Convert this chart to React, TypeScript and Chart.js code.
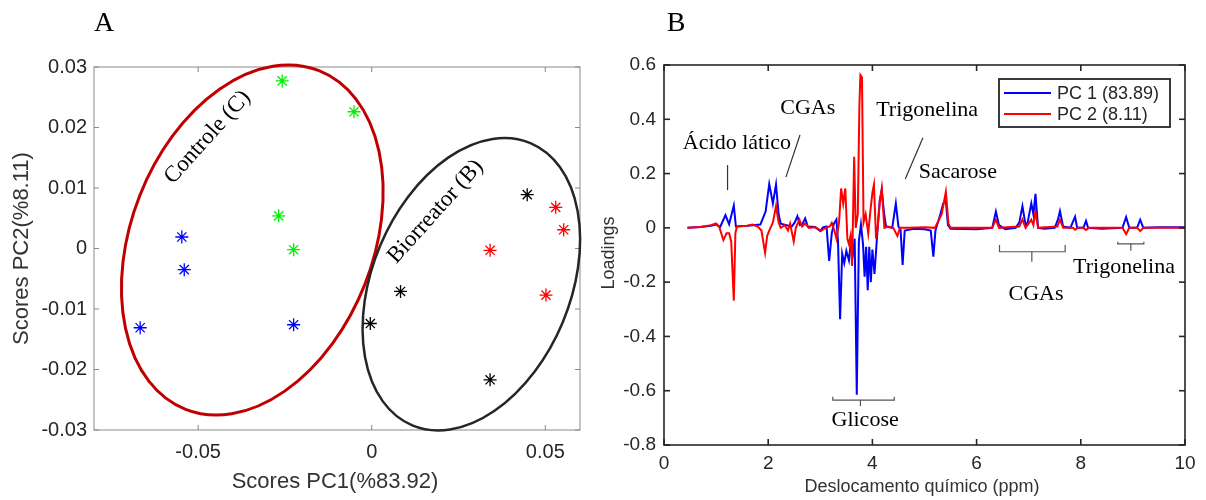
import React, { useEffect, useRef } from 'react';
import { Chart, registerables } from 'chart.js';

Chart.register(...registerables);

// ---------------- Panel A: PCA scores ----------------
const greenX = [-0.0258, -0.0051, -0.0268, -0.0225];
const greenY = [0.0277, 0.0226, 0.0054, -0.0002];
const blueX = [-0.0547, -0.054, -0.0667, -0.0225];
const blueY = [0.0019, -0.0035, -0.0131, -0.0126];
const blackX = [0.0448, 0.0083, -0.0004, 0.0341];
const blackY = [0.0089, -0.0071, -0.0124, -0.0217];
const redX = [0.053, 0.0553, 0.0341, 0.0502];
const redY = [0.0068, 0.0031, -0.0003, -0.0077];

const scoreXTicks = [-0.05, 0, 0.05];
const scoreYTicks = [-0.03, -0.02, -0.01, 0, 0.01, 0.02, 0.03];

const groupLabels = ['Controle (C)', 'Biorreator (B)'];
const groupLabelX = [-0.0473, 0.0184];
const groupLabelY = [0.0184, 0.0061];
const ellipseCX = [-0.0344, 0.0287];
const ellipseCY = [0.0014, -0.0059];

// ---------------- Panel B: loadings ----------------
const pc1Ppm = [
  0.45, 0.7, 0.9, 1.0, 1.08, 1.18, 1.25, 1.34, 1.38, 1.6,
  1.7, 1.85, 1.95, 2.02, 2.09, 2.15, 2.2, 2.24, 2.35, 2.45,
  2.51, 2.56, 2.61, 2.66, 2.71, 2.76, 2.9, 3.0, 3.05, 3.12,
  3.17, 3.22, 3.26, 3.31, 3.34, 3.38, 3.42, 3.46, 3.5, 3.55,
  3.59, 3.63, 3.66, 3.7, 3.74, 3.78, 3.82, 3.85, 3.88, 3.91,
  3.94, 3.97, 4.0, 4.04, 4.09, 4.14, 4.18, 4.22, 4.26, 4.38,
  4.45, 4.5, 4.54, 4.58, 4.62, 4.8, 5.0, 5.12, 5.17, 5.21,
  5.3, 5.36, 5.41, 5.45, 5.5, 6.0, 6.3, 6.37, 6.43, 6.55,
  6.75, 6.82, 6.88, 6.94, 6.98, 7.05, 7.09, 7.13, 7.18, 7.3,
  7.5, 7.56, 7.6, 7.66, 7.8, 7.89, 7.93, 8.05, 8.1, 8.14,
  8.4, 8.8, 8.87, 8.93, 9.08, 9.14, 9.2, 9.5, 10.0,
];
const pc1Loading = [
  0, 0.003, 0.008, 0.012, 0.004, 0.047, 0.013, 0.082, 0.005, 0.008,
  0.01, 0.012, 0.06, 0.161, 0.09, 0.16, 0.05, 0.015, 0.01, 0.005,
  0.02, 0.043, 0.01, 0.015, 0.035, 0.005, 0.003, -0.012, 0.002, 0.005,
  -0.122, -0.02, 0.015, 0.031, -0.05, -0.337, -0.095, -0.13, -0.085, -0.12,
  -0.045, -0.09, -0.04, -0.615, -0.05, 0.012, -0.06, -0.18, -0.07, -0.23,
  -0.07, -0.2, -0.08, -0.17, -0.03, 0.1, 0.14, 0.06, 0.005, 0,
  0.09, 0.005, -0.005, -0.137, -0.01, -0.003, -0.005, -0.01, -0.106, -0.01,
  0.047, 0.09, 0.1, 0.01, -0.003, -0.005, 0, 0.06, 0.01, -0.005,
  0, 0.02, 0.08, 0.01, 0.02, 0.09, 0.05, 0.125, 0, -0.003,
  0, 0.03, 0.062, 0.005, 0, 0.041, 0, 0, 0.026, 0,
  -0.003, 0, 0.04, 0, 0, 0.03, 0, 0.002, 0.002,
];
const pc2Ppm = [
  0.45, 0.7, 0.9, 1.0, 1.06, 1.14, 1.2, 1.25, 1.29, 1.34,
  1.37, 1.4, 1.6, 1.7, 1.8, 1.87, 1.94, 1.98, 2.02, 2.09,
  2.15, 2.2, 2.24, 2.32, 2.38, 2.42, 2.49, 2.53, 2.6, 2.65,
  2.71, 2.78, 2.9, 3.02, 3.1, 3.18, 3.22, 3.27, 3.31, 3.36,
  3.4, 3.44, 3.48, 3.52, 3.55, 3.58, 3.61, 3.65, 3.68, 3.72,
  3.75, 3.77, 3.8, 3.83, 3.87, 3.92, 3.96, 4.0, 4.03, 4.07,
  4.1, 4.14, 4.18, 4.23, 4.3, 4.4, 4.48, 4.53, 4.7, 5.0,
  5.2, 5.33, 5.41, 5.46, 5.5, 6.3, 6.37, 6.43, 6.82, 6.88,
  6.94, 7.05, 7.09, 7.13, 7.18, 7.55, 7.6, 7.66, 7.85, 7.89,
  7.94, 8.05, 8.1, 8.15, 8.8, 8.87, 8.93, 9.08, 9.14, 9.2,
  10.0,
];
const pc2Loading = [
  0, 0.003, 0.01, 0.016, 0.003, -0.045, -0.02, -0.02, -0.05, -0.268,
  -0.02, 0.005, 0.008, 0.012, 0.005, -0.01, -0.092, -0.03, -0.01, 0.02,
  0.08, 0.02, 0, 0.01, -0.01, 0.016, -0.05, 0, 0.03, 0.005,
  0.016, 0, 0.002, -0.01, 0, 0.005, 0.018, -0.01, -0.04, 0.02,
  0.145, 0.09, 0.145, -0.04, -0.06, -0.03, -0.14, 0.262, 0, 0.05,
  0.45, 0.563, 0.555, 0.02, 0.05, -0.02, 0.06, 0.13, 0.16, -0.04,
  0, 0.09, 0.145, 0, 0.005, 0, -0.03, 0, 0, 0.002,
  0, 0.05, 0.133, 0.015, 0, 0, 0.03, 0, 0.005, 0.031,
  0, 0.03, 0.01, 0.06, 0, 0.005, 0.03, 0, 0, -0.007,
  0, 0, -0.008, 0, 0, -0.023, 0, 0, -0.012, 0,
  0,
];
const seriesNames = ['PC 1 (83.89)', 'PC 2 (8.11)'];
const ppmTicks = [0, 2, 4, 6, 8, 10];
const loadingTicks = [-0.8, -0.6, -0.4, -0.2, 0, 0.2, 0.4, 0.6];

const noteTexts = ['Ácido lático', 'CGAs', 'Trigonelina', 'Sacarose', 'Glicose', 'CGAs', 'Trigonelina'];
const notePpm = [1.4, 2.76, 5.05, 5.64, 3.86, 7.14, 8.83];
const noteLoading = [0.312, 0.441, 0.434, 0.206, -0.708, -0.244, -0.145];
// pointer segments: ppm1, loading1, ppm2, loading2
const pointerSegs = [
  [1.22, 0.231, 1.22, 0.139],
  [2.61, 0.342, 2.34, 0.187],
  [4.97, 0.332, 4.63, 0.18],
];
// brackets: ppmStart, ppmEnd, ppmCenter, endTop, line, centerBottom
const brackets = [
  [3.24, 4.42, 3.77, -0.622, -0.635, -0.657],
  [6.44, 7.7, 7.06, -0.063, -0.088, -0.125],
  [8.71, 9.21, 8.96, -0.051, -0.059, -0.084],
];

const SANS = '"Liberation Sans", Arial, sans-serif';
const SERIF = '"Liberation Serif", "Times New Roman", serif';

const fmt = (v: any) => String(Math.round(Number(v) * 1e6) / 1e6);
const toPts = (xs: number[], ys: number[]) => xs.map((x, i) => ({ x, y: ys[i] }));

function seg(ctx: CanvasRenderingContext2D, x1: number, y1: number, x2: number, y2: number) {
  ctx.beginPath();
  ctx.moveTo(x1, y1);
  ctx.lineTo(x2, y2);
  ctx.stroke();
}

function drawBoxTicks(chart: any, xt: number[], yt: number[], color: string, lw: number, tl: number) {
  const { ctx, chartArea: ca, scales } = chart;
  ctx.save();
  ctx.strokeStyle = color;
  ctx.lineWidth = lw;
  ctx.strokeRect(ca.left, ca.top, ca.right - ca.left, ca.bottom - ca.top);
  xt.forEach((v) => {
    const p = scales.x.getPixelForValue(v);
    seg(ctx, p, ca.bottom, p, ca.bottom - tl);
    seg(ctx, p, ca.top, p, ca.top + tl);
  });
  yt.forEach((v) => {
    const p = scales.y.getPixelForValue(v);
    seg(ctx, ca.left, p, ca.left + tl, p);
    seg(ctx, ca.right, p, ca.right - tl, p);
  });
  ctx.restore();
}

const panelAPlugin = {
  id: 'panelA',
  afterDraw(chart: any) {
    const { ctx, chartArea: ca, scales } = chart;
    const xs = scales.x;
    const ys = scales.y;
    drawBoxTicks(chart, scoreXTicks, scoreYTicks, '#8a8a8a', 1, 5);
    ctx.save();
    // confidence ellipses
    const k = (ca.bottom - ca.top) / 363;
    const semiMajor = [182, 153];
    const semiMinor = [121, 99];
    const tilt = [21.5, 22.7];
    const colors = ['#c00000', '#262626'];
    const widths = [3, 2.5];
    for (let i = 0; i < 2; i++) {
      ctx.beginPath();
      ctx.strokeStyle = colors[i];
      ctx.lineWidth = widths[i];
      ctx.ellipse(
        xs.getPixelForValue(ellipseCX[i]),
        ys.getPixelForValue(ellipseCY[i]),
        semiMinor[i] * k,
        semiMajor[i] * k,
        (tilt[i] * Math.PI) / 180,
        0,
        Math.PI * 2
      );
      ctx.stroke();
    }
    // group labels
    ctx.fillStyle = '#000';
    ctx.font = `23px ${SERIF}`;
    ctx.textAlign = 'center';
    ctx.textBaseline = 'middle';
    for (let i = 0; i < groupLabels.length; i++) {
      ctx.save();
      ctx.translate(xs.getPixelForValue(groupLabelX[i]), ys.getPixelForValue(groupLabelY[i]));
      ctx.rotate((-48 * Math.PI) / 180);
      ctx.fillText(groupLabels[i], 0, 0);
      ctx.restore();
    }
    // axis titles
    ctx.fillStyle = '#333';
    ctx.font = `22px ${SANS}`;
    ctx.fillText('Scores PC1(%83.92)', (ca.left + ca.right) / 2 - 2, 482);
    ctx.save();
    ctx.translate(22, (ca.top + ca.bottom) / 2);
    ctx.rotate(-Math.PI / 2);
    ctx.fillText('Scores PC2(%8.11)', 0, 0);
    ctx.restore();
    // panel letter
    ctx.fillStyle = '#000';
    ctx.font = `28px ${SERIF}`;
    ctx.fillText('A', 104, 24);
    ctx.restore();
  },
};

const panelBPlugin = {
  id: 'panelB',
  afterDraw(chart: any) {
    const { ctx, scales } = chart;
    const xs = scales.x;
    const ys = scales.y;
    drawBoxTicks(chart, ppmTicks, loadingTicks, '#262626', 1.6, 6);
    ctx.save();
    // pointer lines
    ctx.strokeStyle = '#333';
    ctx.lineWidth = 1.2;
    pointerSegs.forEach((s) => {
      seg(ctx, xs.getPixelForValue(s[0]), ys.getPixelForValue(s[1]), xs.getPixelForValue(s[2]), ys.getPixelForValue(s[3]));
    });
    // brackets
    ctx.strokeStyle = '#555';
    brackets.forEach((b) => {
      const x1 = xs.getPixelForValue(b[0]);
      const x2 = xs.getPixelForValue(b[1]);
      const xc = xs.getPixelForValue(b[2]);
      const yt = ys.getPixelForValue(b[3]);
      const yl = ys.getPixelForValue(b[4]);
      const yb = ys.getPixelForValue(b[5]);
      ctx.beginPath();
      ctx.moveTo(x1, yt);
      ctx.lineTo(x1, yl);
      ctx.lineTo(x2, yl);
      ctx.lineTo(x2, yt);
      ctx.stroke();
      seg(ctx, xc, yl, xc, yb);
    });
    // annotations
    ctx.fillStyle = '#000';
    ctx.font = `22px ${SERIF}`;
    ctx.textAlign = 'center';
    ctx.textBaseline = 'middle';
    noteTexts.forEach((t, i) => {
      ctx.fillText(t, xs.getPixelForValue(notePpm[i]), ys.getPixelForValue(noteLoading[i]));
    });
    // legend
    const lx = 399;
    const ly = 79;
    ctx.fillStyle = '#fff';
    ctx.fillRect(lx, ly, 171, 48);
    ctx.strokeStyle = '#262626';
    ctx.lineWidth = 1.8;
    ctx.strokeRect(lx, ly, 171, 48);
    const legColors = ['#0000ff', '#ff0000'];
    ctx.font = `18px ${SANS}`;
    ctx.textAlign = 'left';
    seriesNames.forEach((n, i) => {
      const y = ly + 14 + i * 21;
      ctx.strokeStyle = legColors[i];
      ctx.lineWidth = 2;
      seg(ctx, lx + 5, y, lx + 52, y);
      ctx.fillStyle = '#262626';
      ctx.fillText(n, lx + 58, y + 1);
    });
    // axis titles
    ctx.fillStyle = '#333';
    ctx.textAlign = 'center';
    ctx.font = `18px ${SANS}`;
    ctx.fillText('Deslocamento químico (ppm)', 322, 487);
    ctx.save();
    ctx.translate(9, 253);
    ctx.rotate(-Math.PI / 2);
    ctx.fillText('Loadings', 0, 0);
    ctx.restore();
    // panel letter
    ctx.fillStyle = '#000';
    ctx.font = `28px ${SERIF}`;
    ctx.fillText('B', 76, 24);
    ctx.restore();
  },
};

function scatterSet(xs: number[], ys: number[], color: string) {
  return {
    data: toPts(xs, ys),
    pointStyle: 'star',
    pointRadius: 6.5,
    borderColor: color,
    backgroundColor: color,
    borderWidth: 1.3,
    showLine: false,
  };
}

export default function App() {
  const refA = useRef<HTMLCanvasElement>(null);
  const refB = useRef<HTMLCanvasElement>(null);

  useEffect(() => {
    const chartA = new Chart(refA.current as HTMLCanvasElement, {
      type: 'scatter',
      data: {
        datasets: [
          scatterSet(greenX, greenY, '#00f000'),
          scatterSet(blueX, blueY, '#0000ff'),
          scatterSet(blackX, blackY, '#000000'),
          scatterSet(redX, redY, '#ff0000'),
        ] as any,
      },
      options: {
        responsive: false,
        animation: false,
        devicePixelRatio: 1,
        layout: { padding: { left: 0, top: 67, right: 20, bottom: 0 } },
        plugins: { legend: { display: false }, tooltip: { enabled: false } },
        scales: {
          x: {
            type: 'linear',
            min: -0.08,
            max: 0.06,
            grid: { display: false, drawTicks: false },
            border: { display: false },
            ticks: { font: { family: SANS, size: 20 }, color: '#262626', padding: 10, maxRotation: 0, callback: fmt },
            afterBuildTicks: (s: any) => { s.ticks = scoreXTicks.map((v) => ({ value: v })); },
            afterFit: (s: any) => { s.height = 70; },
          },
          y: {
            type: 'linear',
            min: -0.03,
            max: 0.03,
            grid: { display: false, drawTicks: false },
            border: { display: false },
            ticks: { font: { family: SANS, size: 20 }, color: '#262626', padding: 7, callback: fmt },
            afterBuildTicks: (s: any) => { s.ticks = scoreYTicks.map((v) => ({ value: v })); },
            afterFit: (s: any) => { s.width = 94; },
          },
        },
      } as any,
      plugins: [panelAPlugin],
    });

    const chartB = new Chart(refB.current as HTMLCanvasElement, {
      type: 'line',
      data: {
        datasets: [
          {
            label: seriesNames[0],
            data: toPts(pc1Ppm, pc1Loading),
            borderColor: '#0000ff',
            borderWidth: 2,
            pointRadius: 0,
            tension: 0,
            order: 1,
          },
          {
            label: seriesNames[1],
            data: toPts(pc2Ppm, pc2Loading),
            borderColor: '#ff0000',
            borderWidth: 2,
            pointRadius: 0,
            tension: 0,
            order: 0,
          },
        ],
      },
      options: {
        responsive: false,
        animation: false,
        devicePixelRatio: 1,
        layout: { padding: { left: 0, top: 65, right: 21, bottom: 0 } },
        plugins: { legend: { display: false }, tooltip: { enabled: false } },
        scales: {
          x: {
            type: 'linear',
            min: 0,
            max: 10,
            grid: { display: false, drawTicks: false },
            border: { display: false },
            ticks: { font: { family: SANS, size: 19 }, color: '#262626', padding: 7, maxRotation: 0, callback: fmt },
            afterBuildTicks: (s: any) => { s.ticks = ppmTicks.map((v) => ({ value: v })); },
            afterFit: (s: any) => { s.height = 55; },
          },
          y: {
            type: 'linear',
            min: -0.8,
            max: 0.6,
            grid: { display: false, drawTicks: false },
            border: { display: false },
            ticks: { font: { family: SANS, size: 19 }, color: '#262626', padding: 8, callback: fmt },
            afterBuildTicks: (s: any) => { s.ticks = loadingTicks.map((v) => ({ value: v })); },
            afterFit: (s: any) => { s.width = 64; },
          },
        },
      } as any,
      plugins: [panelBPlugin],
    });

    return () => {
      chartA.destroy();
      chartB.destroy();
    };
  }, []);

  return (
    <div style={{ position: 'absolute', left: 0, top: 0, width: 1206, height: 500, background: '#fff', overflow: 'hidden' }}>
      <canvas ref={refA} width={600} height={500} style={{ position: 'absolute', left: 0, top: 0, width: 600, height: 500 }} />
      <canvas ref={refB} width={606} height={500} style={{ position: 'absolute', left: 600, top: 0, width: 606, height: 500 }} />
    </div>
  );
}
